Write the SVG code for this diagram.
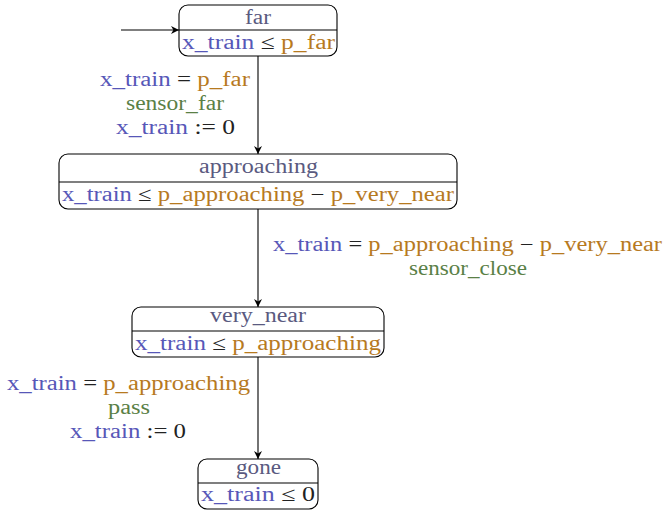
<svg xmlns="http://www.w3.org/2000/svg" width="663" height="515" viewBox="0 0 663 515">
<style>
text{font-family:"Liberation Serif","DejaVu Serif",serif;font-size:20px;}
.t{fill:#5a5a80;}
.v{fill:#5757b8;}
.p{fill:#b77a1f;}
.g{fill:#5a8046;}
.k{fill:#222;}
.box{fill:#fff;stroke:#000;stroke-width:1.1;}
.div{stroke:#000;stroke-width:1.1;}
.edge{stroke:#000;stroke-width:1.1;fill:none;marker-end:url(#ah);}
</style>
<defs>
<marker id="ah" viewBox="0 0 10 10" refX="10" refY="5" markerWidth="8" markerHeight="8" markerUnits="userSpaceOnUse" orient="auto">
<path d="M0,0 L10,5 L0,10 L3,5 Z" fill="#000"/>
</marker>
</defs>
<rect width="663" height="515" fill="#fff"/>
<g id="connectors">
<path class="edge" d="M121,30 L179,30"/>
<path class="edge" d="M258,56 L258,154"/>
<path class="edge" d="M258,209 L258,307"/>
<path class="edge" d="M258,357 L258,459"/>
</g>
<g id="far">
<rect class="box" x="179" y="5" width="158" height="51" rx="9"/>
<line class="div" x1="179" y1="30" x2="337" y2="30"/>
<text class="t" x="245" y="24" textLength="26" lengthAdjust="spacingAndGlyphs">far</text>
<text x="182" y="49" textLength="153" lengthAdjust="spacingAndGlyphs"><tspan class="v">x_train</tspan><tspan class="k"> ≤ </tspan><tspan class="p">p_far</tspan></text>
</g>
<g id="approaching">
<rect class="box" x="59" y="154" width="398" height="55" rx="9"/>
<line class="div" x1="59" y1="182" x2="457" y2="182"/>
<text class="t" x="199" y="173" textLength="119" lengthAdjust="spacingAndGlyphs">approaching</text>
<text x="62" y="201" textLength="392" lengthAdjust="spacingAndGlyphs"><tspan class="v">x_train</tspan><tspan class="k"> ≤ </tspan><tspan class="p">p_approaching</tspan><tspan class="k"> − </tspan><tspan class="p">p_very_near</tspan></text>
</g>
<g id="very_near">
<rect class="box" x="132" y="307" width="252" height="50" rx="9"/>
<line class="div" x1="132" y1="331" x2="384" y2="331"/>
<text class="t" x="210" y="322" textLength="96" lengthAdjust="spacingAndGlyphs">very_near</text>
<text x="135" y="350" textLength="246" lengthAdjust="spacingAndGlyphs"><tspan class="v">x_train</tspan><tspan class="k"> ≤ </tspan><tspan class="p">p_approaching</tspan></text>
</g>
<g id="gone">
<rect class="box" x="198" y="459" width="120" height="50" rx="9"/>
<line class="div" x1="198" y1="483" x2="318" y2="483"/>
<text class="t" x="236" y="474" textLength="45" lengthAdjust="spacingAndGlyphs">gone</text>
<text x="201" y="501" textLength="114" lengthAdjust="spacingAndGlyphs"><tspan class="v">x_train</tspan><tspan class="k"> ≤ 0</tspan></text>
</g>
<g id="labels">
<text x="100" y="86" textLength="150" lengthAdjust="spacingAndGlyphs"><tspan class="v">x_train</tspan><tspan class="k"> = </tspan><tspan class="p">p_far</tspan></text>
<text class="g" x="126" y="110" textLength="98" lengthAdjust="spacingAndGlyphs">sensor_far</text>
<text x="116" y="134" textLength="119" lengthAdjust="spacingAndGlyphs"><tspan class="v">x_train</tspan><tspan class="k"> := 0</tspan></text>
<text x="273" y="251" textLength="389" lengthAdjust="spacingAndGlyphs"><tspan class="v">x_train</tspan><tspan class="k"> = </tspan><tspan class="p">p_approaching</tspan><tspan class="k"> − </tspan><tspan class="p">p_very_near</tspan></text>
<text class="g" x="409" y="275" textLength="118" lengthAdjust="spacingAndGlyphs">sensor_close</text>
<text x="7" y="390" textLength="243" lengthAdjust="spacingAndGlyphs"><tspan class="v">x_train</tspan><tspan class="k"> = </tspan><tspan class="p">p_approaching</tspan></text>
<text class="g" x="108" y="414" textLength="42" lengthAdjust="spacingAndGlyphs">pass</text>
<text x="70" y="438" textLength="116" lengthAdjust="spacingAndGlyphs"><tspan class="v">x_train</tspan><tspan class="k"> := 0</tspan></text>
</g>
</svg>
